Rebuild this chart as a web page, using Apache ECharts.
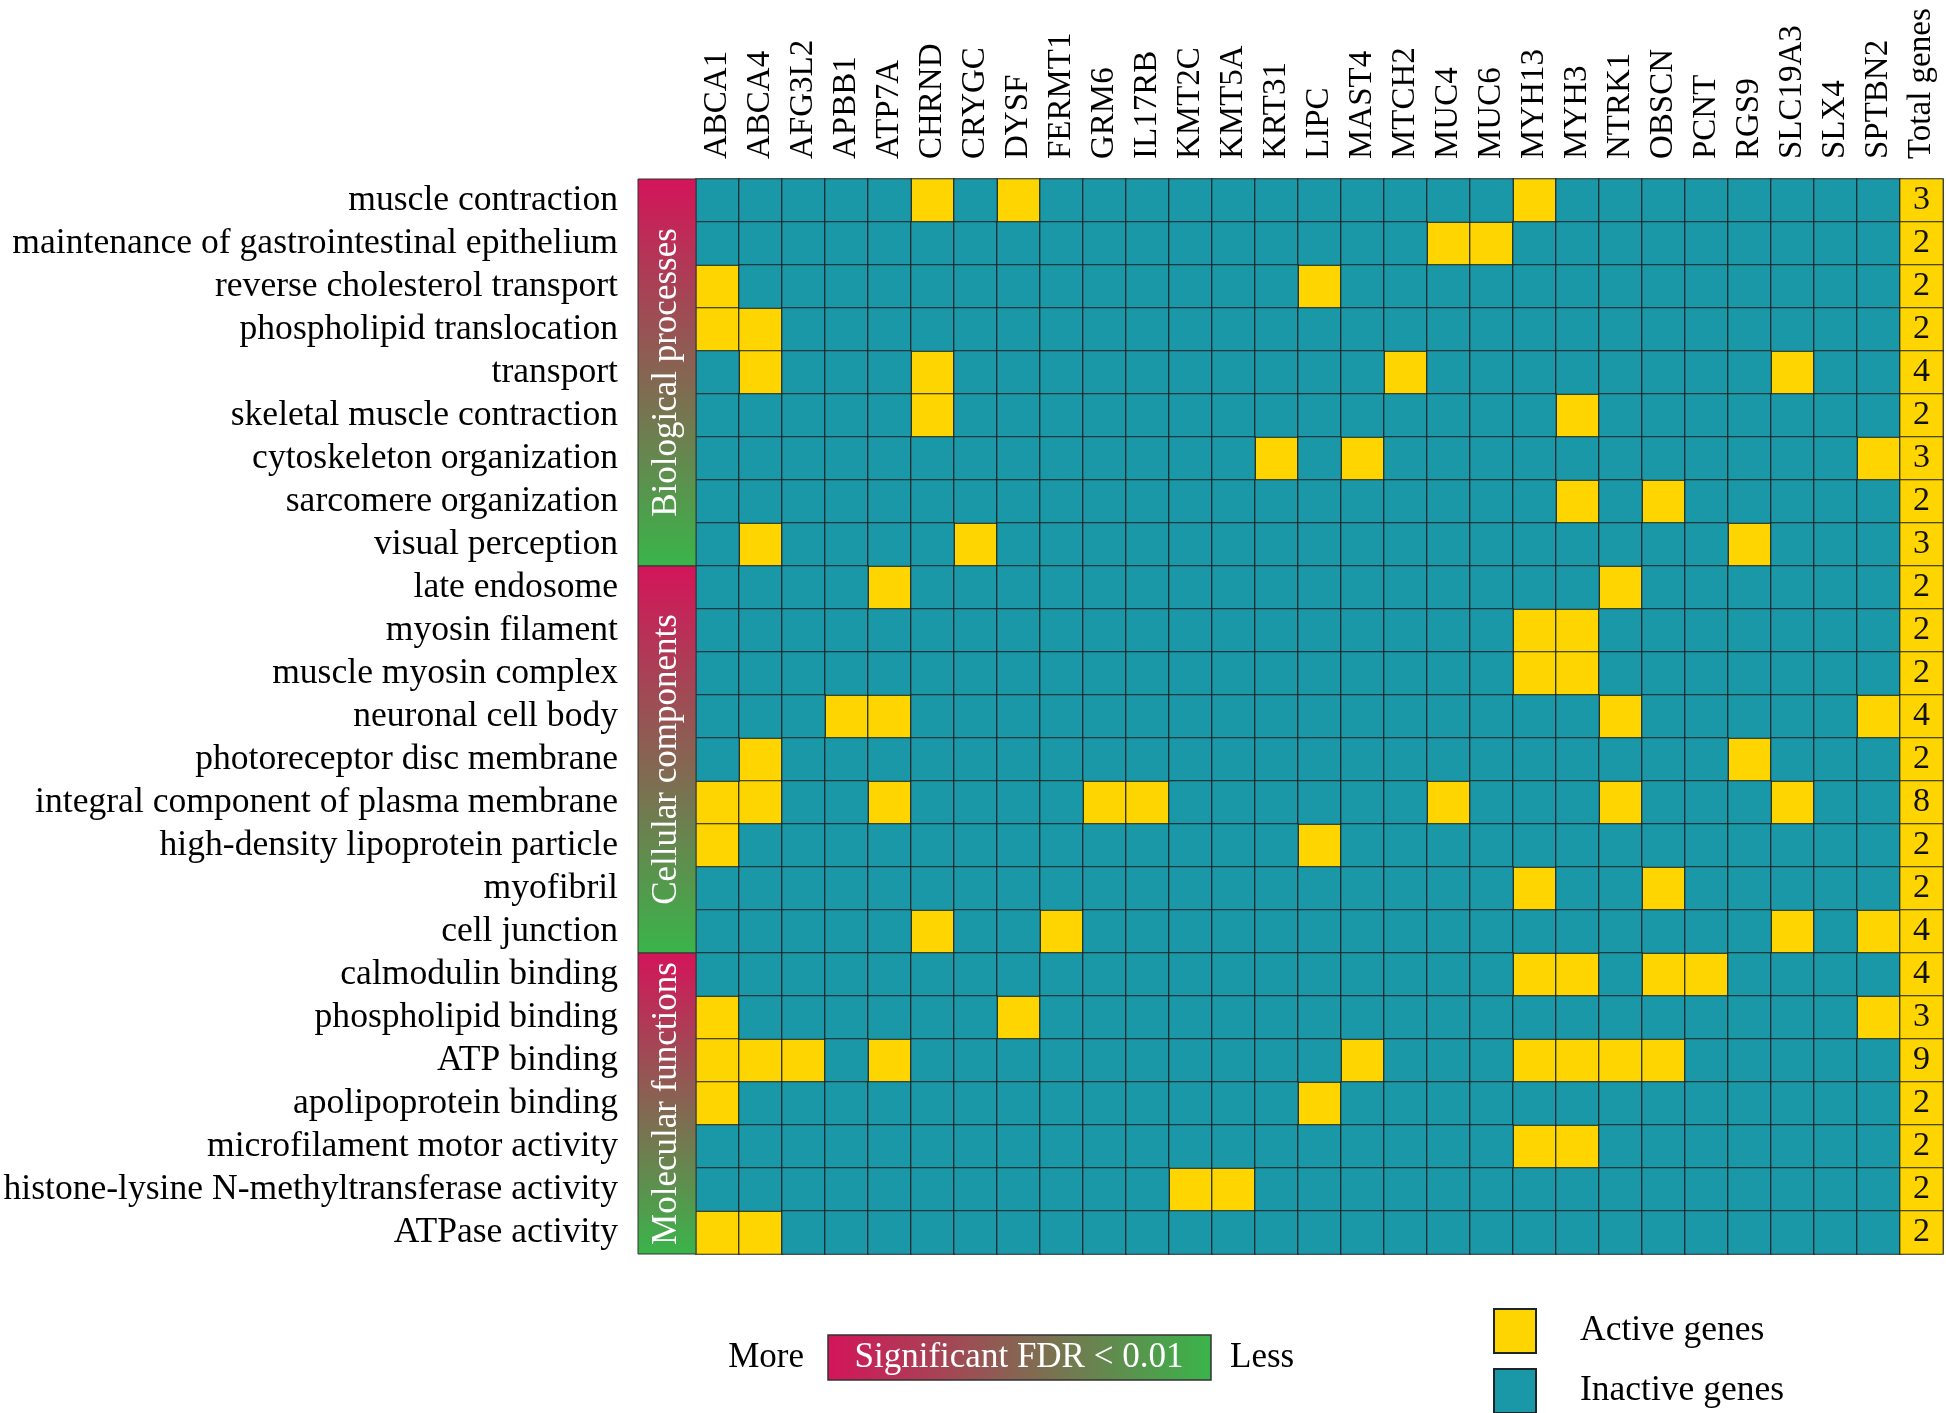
<!DOCTYPE html>
<html><head><meta charset="utf-8">
<script src="https://cdn.jsdelivr.net/npm/echarts@6/dist/echarts.min.js"></script>
<style>html,body{margin:0;padding:0;background:#fff}#c{width:1946px;height:1413px}</style>
</head><body><div id="c"></div>
<script>
const genes = ['ABCA1','ABCA4','AFG3L2','APBB1','ATP7A','CHRND','CRYGC','DYSF','FERMT1','GRM6','IL17RB','KMT2C','KMT5A','KRT31','LIPC','MAST4','MTCH2','MUC4','MUC6','MYH13','MYH3','NTRK1','OBSCN','PCNT','RGS9','SLC19A3','SLX4','SPTBN2'];
const totalLabel = 'Total genes';
const terms = ['muscle contraction','maintenance of gastrointestinal epithelium','reverse cholesterol transport','phospholipid translocation','transport','skeletal muscle contraction','cytoskeleton organization','sarcomere organization','visual perception','late endosome','myosin filament','muscle myosin complex','neuronal cell body','photoreceptor disc membrane','integral component of plasma membrane','high-density lipoprotein particle','myofibril','cell junction','calmodulin binding','phospholipid binding','ATP binding','apolipoprotein binding','microfilament motor activity','histone-lysine N-methyltransferase activity','ATPase activity'];
const groups = ['Biological processes','Cellular components','Molecular functions'];
const groupSizes = [9, 9, 7];
const activeGenes = [
  ['CHRND','DYSF','MYH13'],
  ['MUC4','MUC6'],
  ['ABCA1','LIPC'],
  ['ABCA1','ABCA4'],
  ['ABCA4','CHRND','MTCH2','SLC19A3'],
  ['CHRND','MYH3'],
  ['KRT31','MAST4','SPTBN2'],
  ['MYH3','OBSCN'],
  ['ABCA4','CRYGC','RGS9'],
  ['ATP7A','NTRK1'],
  ['MYH13','MYH3'],
  ['MYH13','MYH3'],
  ['APBB1','ATP7A','NTRK1','SPTBN2'],
  ['ABCA4','RGS9'],
  ['ABCA1','ABCA4','ATP7A','GRM6','IL17RB','MUC4','NTRK1','SLC19A3'],
  ['ABCA1','LIPC'],
  ['MYH13','OBSCN'],
  ['CHRND','FERMT1','SLC19A3','SPTBN2'],
  ['MYH13','MYH3','OBSCN','PCNT'],
  ['ABCA1','DYSF','SPTBN2'],
  ['ABCA1','ABCA4','AFG3L2','ATP7A','MAST4','MYH13','MYH3','NTRK1','OBSCN'],
  ['ABCA1','LIPC'],
  ['MYH13','MYH3'],
  ['KMT2C','KMT5A'],
  ['ABCA1','ABCA4']
];
const totals = [3,2,2,2,4,2,3,2,3,2,2,2,4,2,8,2,2,4,4,3,9,2,2,2,2];

const YELLOW = '#FFD500', TEAL = '#1B98A8', LINE = '#1d2626';
const FONT = '"Liberation Serif", "Times New Roman", serif';

const activeData = [], inactiveData = [];
terms.forEach((t, r) => {
  genes.forEach((g, c) => {
    if (activeGenes[r].indexOf(g) >= 0) activeData.push([c, r, 1]);
    else inactiveData.push([c, r, 0]);
  });
});
const totalData = totals.map((v, r) => [genes.length, r, v]);
const groupData = [];
let acc = 0;
groupSizes.forEach((n, i) => { groupData.push({value: [0, acc, acc + n - 1], name: groups[i]}); acc += n; });

const xCats = genes.concat([totalLabel]);
const chart = echarts.init(document.getElementById('c'), null, {renderer: 'canvas'});
const gradV = {type: 'linear', x: 0, y: 0, x2: 0, y2: 1, colorStops: [{offset: 0, color: '#D4145A'}, {offset: 1, color: '#39B54A'}]};
const gradH = {type: 'linear', x: 0, y: 0, x2: 1, y2: 0, colorStops: [{offset: 0, color: '#D4145A'}, {offset: 1, color: '#39B54A'}]};

chart.setOption({
  backgroundColor: '#fff',
  animation: false,
  textStyle: {fontFamily: FONT},
  grid: [
    {left: 696, top: 179, width: 1247, height: 1075},
    {left: 638, top: 179, width: 58, height: 1075}
  ],
  xAxis: [
    {type: 'category', gridIndex: 0, data: xCats, position: 'top',
     axisLine: {show: false}, axisTick: {show: false}, splitLine: {show: false},
     axisLabel: {rotate: -90, fontSize: 33, color: '#000', margin: 20, fontFamily: FONT, interval: 0}},
    {type: 'category', gridIndex: 1, data: ['group'], show: false}
  ],
  yAxis: [
    {type: 'category', gridIndex: 0, data: terms, inverse: true,
     axisLine: {show: false}, axisTick: {show: false}, splitLine: {show: false},
     axisLabel: {fontSize: 35.6, color: '#000', margin: 78, fontFamily: FONT, interval: 0}},
    {type: 'category', gridIndex: 1, data: terms, inverse: true, show: false}
  ],
  legend: {
    data: ['Active genes', 'Inactive genes'], orient: 'vertical', left: 1493, top: 1308, padding: 0,
    width: 420, height: 300,
    itemWidth: 42, itemHeight: 44, itemGap: 14, icon: 'rect', selectedMode: false,
    textStyle: {fontSize: 35.5, color: '#000', fontFamily: FONT, padding: [0, 0, 0, 39]}
  },
  series: [
    {name: 'Active genes', type: 'heatmap', data: activeData, xAxisIndex: 0, yAxisIndex: 0,
     itemStyle: {color: YELLOW, borderColor: LINE, borderWidth: 1.2}, emphasis: {disabled: true}},
    {name: 'Inactive genes', type: 'heatmap', data: inactiveData, xAxisIndex: 0, yAxisIndex: 0,
     itemStyle: {color: TEAL, borderColor: LINE, borderWidth: 1.2}, emphasis: {disabled: true}},
    {name: 'Total', type: 'heatmap', data: totalData, xAxisIndex: 0, yAxisIndex: 0,
     itemStyle: {color: YELLOW, borderColor: LINE, borderWidth: 1.2}, emphasis: {disabled: true},
     label: {show: true, formatter: p => String(p.value[2]), fontSize: 34, color: '#111', fontFamily: FONT}},
    {name: 'Groups', type: 'custom', xAxisIndex: 1, yAxisIndex: 1, data: groupData,
     encode: {x: 0, y: 1},
     renderItem: function (params, api) {
       const s = api.value(1), e = api.value(2);
       const a = api.coord([0, s]), b = api.coord([0, e]);
       const sz = api.size([1, 1]);
       const x = a[0] - sz[0] / 2, y = a[1] - sz[1] / 2, w = sz[0], h = b[1] - a[1] + sz[1];
       return {type: 'group', children: [
         {type: 'rect', shape: {x: x, y: y, width: w, height: h},
          style: {fill: gradV, stroke: '#333', lineWidth: 1}},
         {type: 'text', x: x + w / 2, y: y + h / 2, rotation: Math.PI / 2,
          style: {text: groups[params.dataIndex], fill: '#fff', font: '35px ' + FONT,
                  textAlign: 'center', textVerticalAlign: 'middle'}}
       ]};
     }}
  ],
  graphic: [
    {type: 'text', x: 804, y: 1358, style: {text: 'More', font: '35px ' + FONT, fill: '#000', textAlign: 'right', textVerticalAlign: 'middle'}},
    {type: 'rect', shape: {x: 828, y: 1335, width: 383, height: 45}, style: {fill: gradH, stroke: '#333', lineWidth: 1.5}},
    {type: 'text', x: 1019, y: 1358, style: {text: 'Significant FDR < 0.01', font: '35px ' + FONT, fill: '#fff', textAlign: 'center', textVerticalAlign: 'middle'}},
    {type: 'text', x: 1230, y: 1358, style: {text: 'Less', font: '35px ' + FONT, fill: '#000', textAlign: 'left', textVerticalAlign: 'middle'}}
  ]
});
</script>
</body></html>
